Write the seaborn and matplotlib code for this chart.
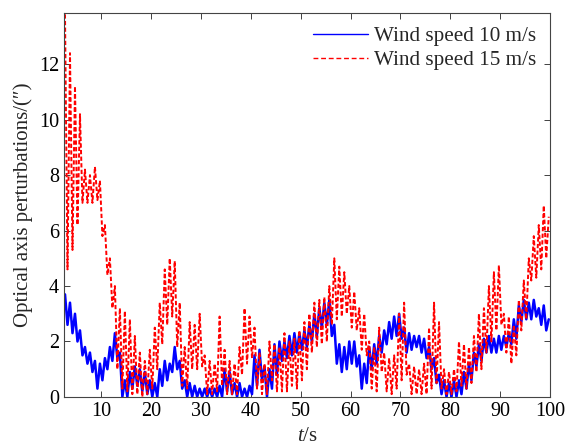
import matplotlib
matplotlib.use("Agg")
import matplotlib.pyplot as plt
import seaborn as sns
import numpy as np
import pandas as pd

# values, alternating upper / lower edge of the noisy band
# one value every 0.5 s starting at t = 2.75 s
wind_10 = [
    3.7, 2.6, 3.4, 2.3, 3.0, 2.0, 2.4, 1.5, 1.8, 1.2,
    1.6, 0.9, 1.3, 0.3, 1.2, 0.6, 1.4, 1.0, 1.8, 1.3,
    2.3, 1.4, 1.6, 0.0, 0.6, 0.0, 0.9, 0.3, 1.1, 0.4,
    1.0, 0.2, 0.9, 0.1, 0.6, 0.0, 0.5, 0.0, 1.0, 0.4,
    1.3, 0.6, 1.2, 0.9, 1.8, 1.0, 1.3, 0.3, 0.6, 0.0,
    0.5, 0.0, 0.4, 0.0, 0.3, 0.0, 0.3, 0.0, 0.3, 0.0,
    0.3, 0.0, 0.4, 0.0, 1.0, 0.2, 0.9, 0.1, 0.5, 0.0,
    0.5, 0.0, 0.3, 0.0, 0.4, 0.1, 1.5, 0.4, 1.7, 0.6,
    1.1, 0.0, 1.0, 0.3, 1.9, 0.8, 2.0, 1.3, 2.0, 1.4,
    2.2, 1.5, 2.3, 1.6, 2.3, 1.7, 2.4, 1.8, 2.6, 2.0,
    3.0, 2.2, 3.2, 2.5, 3.4, 2.6, 3.5, 2.2, 2.6, 1.2,
    1.9, 0.9, 1.8, 1.0, 2.0, 1.2, 2.0, 1.1, 1.5, 0.3,
    1.2, 0.5, 1.8, 1.0, 1.9, 1.2, 2.2, 1.6, 2.4, 1.9,
    2.7, 2.1, 2.9, 2.2, 3.0, 2.1, 2.5, 1.6, 2.3, 1.7,
    2.2, 1.8, 2.2, 1.6, 2.1, 1.4, 1.8, 1.0, 1.4, 0.5,
    0.8, 0.1, 0.6, 0.0, 0.5, 0.0, 0.6, 0.0, 0.6, 0.1,
    0.9, 0.3, 1.2, 0.6, 1.6, 1.1, 1.9, 1.3, 2.1, 1.6,
    2.2, 1.6, 2.1, 1.6, 2.2, 1.7, 2.2, 1.8, 2.3, 1.9,
    2.8, 2.1, 3.3, 2.7, 3.5, 2.8, 3.4, 2.8, 3.5, 2.9,
    3.2, 2.6, 3.3, 2.4, 2.8,
]

wind_15 = [
    13.8, 4.6, 12.4, 5.3, 11.2, 6.2, 10.2, 7.0, 8.2, 7.0,
    8.0, 7.0, 8.3, 7.1, 7.8, 5.8, 6.2, 4.4, 5.0, 3.2,
    4.0, 1.0, 3.2, 0.3, 3.1, 0.2, 2.8, 0.1, 2.2, 0.1,
    1.6, 0.0, 1.3, 0.1, 1.7, 0.3, 2.5, 1.0, 3.4, 1.9,
    4.6, 2.6, 5.0, 2.9, 4.9, 1.8, 3.4, 0.4, 1.8, 0.3,
    2.7, 1.0, 2.6, 1.0, 3.0, 1.1, 1.5, 0.1, 1.3, 0.1,
    1.2, 0.2, 2.9, 0.4, 1.7, 0.1, 1.3, 0.1, 1.2, 0.1,
    1.8, 0.8, 3.2, 1.2, 2.9, 1.4, 2.5, 0.3, 1.6, 0.1,
    1.2, 0.1, 2.0, 0.6, 1.9, 0.2, 1.8, 0.2, 2.3, 0.2,
    2.0, 0.4, 2.1, 0.3, 2.4, 0.6, 2.7, 1.0, 3.0, 1.6,
    3.4, 1.8, 3.5, 1.9, 3.6, 2.0, 4.0, 2.6, 5.0, 2.8,
    4.7, 2.9, 4.5, 3.0, 4.0, 2.5, 3.8, 2.4, 3.2, 1.7,
    3.0, 1.5, 2.0, 0.3, 1.8, 0.2, 2.5, 0.9, 1.6, 0.2,
    1.4, 0.1, 1.5, 0.3, 3.0, 0.6, 3.4, 0.8, 1.2, 0.1,
    1.1, 0.1, 1.0, 0.1, 1.2, 0.1, 2.5, 0.3, 3.4, 0.5,
    2.7, 0.3, 1.0, 0.1, 0.9, 0.1, 1.0, 0.2, 2.0, 0.4,
    1.9, 0.3, 1.8, 0.5, 2.2, 0.9, 3.0, 1.0, 3.2, 1.6,
    4.0, 2.0, 4.5, 2.4, 4.75, 2.6, 3.0, 1.6, 2.9, 1.2,
    2.6, 1.5, 3.5, 2.4, 4.2, 2.8, 5.0, 4.2, 5.8, 4.3,
    6.2, 4.6, 6.9, 5.0, 6.5,
]

labels = ["Wind speed 10 m/s", "Wind speed 15 m/s"]
x_ticks = [10, 20, 30, 40, 50, 60, 70, 80, 90, 100]
y_ticks = [0, 2, 4, 6, 8, 10, 12]

t10 = 2.75 + 0.5 * np.arange(len(wind_10))
t15 = 2.75 + 0.5 * np.arange(len(wind_15))
df10 = pd.DataFrame({"t": t10, "val": wind_10})
df15 = pd.DataFrame({"t": t15, "val": wind_15})

sns.set_style("ticks")
plt.rcParams["font.family"] = ["Liberation Serif", "DejaVu Serif"]
plt.rcParams["mathtext.fontset"] = "custom"
plt.rcParams["mathtext.rm"] = "Liberation Serif"
plt.rcParams["mathtext.it"] = "Liberation Serif:italic"

fig = plt.figure(figsize=(5.68, 4.46), dpi=100)
ax = fig.add_axes([0.1127, 0.11, 0.8556, 0.861])

sns.lineplot(data=df10, x="t", y="val", ax=ax, color="#0000ff",
             linewidth=1.8, label=labels[0], sort=False)
sns.lineplot(data=df15, x="t", y="val", ax=ax, color="#ff0000",
             linewidth=1.4, label=labels[1], sort=False)
ax.lines[1].set_dashes((2.2, 1.2))

ax.set_xlim(2.55, 100)
ax.set_ylim(0, 13.85)
ax.set_xticks(x_ticks)
ax.set_yticks(y_ticks)
ax.tick_params(direction="in", top=True, right=True, labelsize=14.5,
               length=4, width=0.6, colors="#222222", labelcolor="black")
for s in ax.spines.values():
    s.set_visible(True)
    s.set_linewidth(0.8)
    s.set_color("#444444")

ax.set_xlabel("$t$/s", fontsize=15, labelpad=4.5)
ax.set_ylabel("Optical axis perturbations/(\u2033)", fontsize=15, labelpad=4)

leg = ax.legend(loc="upper right", frameon=False, fontsize=15.2,
                handlelength=2.6, handletextpad=0.3, borderaxespad=0.25,
                labelspacing=0.2)
for h in leg.get_lines():
    h.set_linewidth(1.0)
leg.get_lines()[1].set_dashes((3.5, 2))

fig.savefig("out.png", dpi=100)
plt.close(fig)
